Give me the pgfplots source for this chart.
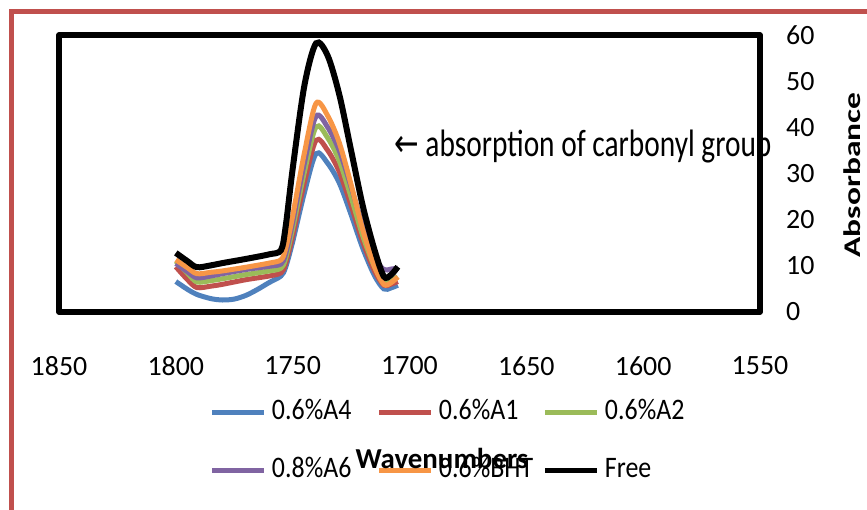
\documentclass[border=0pt]{standalone}
\usepackage{pgfplots}
\pgfplotsset{compat=1.18}
\usepackage{fontspec}
\usepackage{graphicx}
\setmainfont{Carlito}
\newfontfamily\dejavu{DejaVu Sans}
\definecolor{cA4}{HTML}{4F81BD}
\definecolor{cA1}{HTML}{C0504D}
\definecolor{cA2}{HTML}{9BBB59}
\definecolor{cA6}{HTML}{8064A2}
\definecolor{cBHT}{HTML}{F79646}
\definecolor{frameRed}{HTML}{C0504D}
\begin{document}
\begin{tikzpicture}[x=1bp,y=1bp]
\path[use as bounding box] (0,0) rectangle (867,-510);
\draw[color=frameRed, line width=5bp, line cap=rect] (11,-512) -- (11,-12) -- (870,-12);
\begin{axis}[
  at={(59bp,-312bp)}, anchor=south west,
  scale only axis, width=701bp, height=277bp,
  xmin=1550, xmax=1850, x dir=reverse,
  ymin=0, ymax=60,
  xtick={1550,1600,...,1850}, ytick={0,10,...,60},
  major tick length=0pt,
  /pgf/number format/assume math mode=true,
  /pgf/number format/1000 sep={},
  tick label style={font=\fontsize{28}{28}\selectfont},
  xticklabel style={anchor=center, yshift=-54bp, inner sep=0pt},
  yticklabel pos=right,
  yticklabel style={anchor=west, xshift=26bp, inner sep=0pt},
  axis line style={line width=5.5bp, line join=round, line cap=rect},
  clip=false,
  legend columns=3,
  legend cell align=left,
  legend image code/.code={\draw[#1, line width=5bp] (0bp,0bp) -- (52bp,0bp);},
  legend style={at={(0.2154,-0.3213)}, anchor=north west, draw=none, fill=none,
    inner sep=0pt, outer sep=0pt, row sep=36bp,
    font=\fontsize{26}{26}\selectfont,
    nodes={inner sep=0pt, text height=18bp, text depth=4bp},
    /tikz/every odd column/.append style={column sep=5bp}},
]
\addplot[cA4, line width=5bp, smooth] coordinates {
(1800,6.6) (1795,4.9) (1791,3.8) (1785,2.9) (1780,2.6) (1775,2.8) (1770,3.6) (1765,4.9) (1760,6.4) (1755,7.8) (1753,9.7) (1750,15.2) (1745,25.8) (1740,34.3) (1735,32.2) (1730,27.9) (1725,21.1) (1720,13.8) (1715,7.9) (1711,5.0) (1708,5.2) (1705,5.8)};
\addlegendentry{\makebox[105bp][l]{\scalebox{1}[1.15]{0.6\%A4}}}
\addplot[cA1, line width=5bp, smooth] coordinates {
(1800,9.8) (1795,7.0) (1791,5.3) (1785,5.6) (1780,6.0) (1770,7.0) (1760,7.8) (1755,8.5) (1753,10.5) (1750,16.5) (1745,28.0) (1740,37.2) (1735,35.0) (1730,30.3) (1725,23.1) (1720,15.2) (1715,8.9) (1711,5.8) (1708,6.0) (1705,6.6)};
\addlegendentry{\makebox[104bp][l]{\scalebox{1}[1.15]{0.6\%A1}}}
\addplot[cA2, line width=5bp, smooth] coordinates {
(1800,11.0) (1795,8.4) (1791,6.5) (1785,6.8) (1780,7.2) (1770,8.1) (1760,8.9) (1755,9.5) (1753,11.6) (1750,18.1) (1745,30.3) (1740,40.1) (1735,37.7) (1730,32.7) (1725,24.9) (1720,16.5) (1715,9.8) (1711,6.4) (1708,6.8) (1705,7.6)};
\addlegendentry{\scalebox{1}[1.15]{0.6\%A2}}
\addplot[cA6, line width=5bp, smooth] coordinates {
(1800,10.5) (1795,8.7) (1791,7.4) (1785,7.8) (1780,8.3) (1770,9.2) (1760,9.9) (1755,10.4) (1753,12.6) (1750,19.4) (1745,32.2) (1740,42.4) (1735,40.0) (1730,34.9) (1725,27.1) (1720,18.7) (1715,11.9) (1711,9.2) (1708,9.3) (1705,9.5)};
\addlegendentry{\makebox[105bp][l]{\scalebox{1}[1.15]{0.8\%A6}}}
\addplot[cBHT, line width=5bp, smooth] coordinates {
(1800,11.3) (1795,9.6) (1791,8.3) (1785,8.6) (1780,8.9) (1770,9.7) (1760,10.6) (1755,11.3) (1753,13.7) (1750,20.8) (1745,34.4) (1740,45.2) (1735,42.5) (1730,36.6) (1725,27.6) (1720,17.8) (1715,9.9) (1711,6.0) (1708,6.3) (1705,7.6)};
\addlegendentry{\makebox[104bp][l]{\scalebox{1}[1.15]{0.6\%BHT}}}
\addplot[black, line width=6bp, smooth] coordinates {
(1800,12.8) (1795,11.0) (1791,9.7) (1785,10.1) (1780,10.6) (1770,11.5) (1760,12.5) (1755,13.4) (1753,18.5) (1750,31.0) (1745,49.0) (1740,58.2) (1735,55.5) (1730,47.0) (1725,35.0) (1720,23.0) (1715,13.5) (1711,7.7) (1708,8.0) (1705,9.8)};
\addlegendentry{\scalebox{1}[1.15]{Free}}
\end{axis}
\node[anchor=base west, inner sep=0pt] at (394,-157)
  {\scalebox{1}[1.3]{\fontsize{29.5}{29.5}\selectfont{\dejavu ←} absorption of carbonyl group}};
\node[anchor=base, inner sep=0pt] at (442,-468)
  {\fontsize{29}{29}\selectfont\bfseries Wavenumbers};
\node[rotate=90, inner sep=0pt] at (852,-175)
  {\scalebox{1.4}[1]{\fontsize{24}{24}\selectfont\bfseries Absorbance}};
\end{tikzpicture}
\end{document}
